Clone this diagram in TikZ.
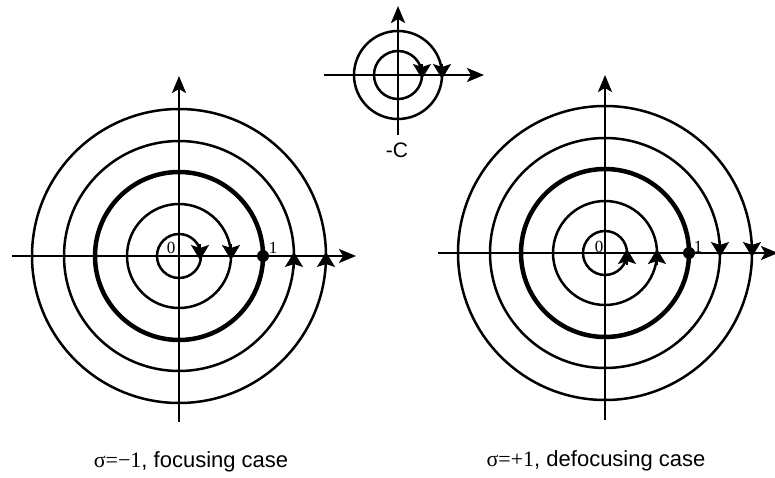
\documentclass[tikz,border=0pt]{standalone}
\usepackage{fontspec}
\setmainfont{Liberation Sans}
\newfontfamily\timesfont{Liberation Serif}
\usetikzlibrary{arrows.meta}
\begin{document}
\begin{tikzpicture}[x=1pt,y=-1pt,line width=2pt,
  axis/.style={line width=2.6pt,-{Stealth[length=17pt,width=14pt,inset=4pt]}},
  orbit/.style={line width=2.5pt},
  limit/.style={line width=4.5pt},
  flow/.style={line width=2pt,-{Stealth[length=15pt,width=18pt,inset=3pt]}},
  every node/.style={inner sep=0pt,anchor=base}]
\useasboundingbox (0,0) rectangle (775,478);
\coordinate (T) at (398,75);
\coordinate (L) at (179,256);
\coordinate (R) at (605,253);
% small contour on top
\draw[axis] (324,75) -- (484,75);
\draw[axis] (398,135) -- (398,6);
\draw[orbit] (T) circle[radius=24];
\draw[orbit] (T) circle[radius=44];
\draw[flow] (422,64) -- (422,79);
\draw[flow] (442,64) -- (442,79);
\node (minusC) at (397,158) {\fontsize{21}{25}\selectfont -C};
% focusing case
\draw[axis] (12,256) -- (356,256);
\draw[axis] (179,422) -- (179,76);
\draw[orbit] (L) circle[radius=22];
\draw[orbit] (L) circle[radius=52];
\draw[limit] (L) circle[radius=84];
\draw[orbit] (L) circle[radius=115];
\draw[orbit] (L) circle[radius=147];
\draw[flow] (200,244) -- (200,260);
\draw[flow] (231,244) -- (231,260);
\draw[flow] (294,268) -- (294,252);
\draw[flow] (326,268) -- (326,252);
\fill (263,256) circle[radius=6];
\node (zeroL) at (171,253) {\timesfont\fontsize{17}{20}\selectfont 0};
\node (oneL) at (273,253) {\timesfont\fontsize{17}{20}\selectfont 1};
\node (capL) at (191,467) {\fontsize{22}{26}\selectfont{\timesfont σ=−1}, focusing case};
% defocusing case
\draw[axis] (438,253) -- (778,253);
\draw[axis] (605,420) -- (605,75);
\draw[orbit] (R) circle[radius=22];
\draw[orbit] (R) circle[radius=52];
\draw[limit] (R) circle[radius=84];
\draw[orbit] (R) circle[radius=115];
\draw[orbit] (R) circle[radius=147];
\draw[flow] (627,265) -- (627,249);
\draw[flow] (657,265) -- (657,249);
\draw[flow] (720,241) -- (720,257);
\draw[flow] (752,241) -- (752,257);
\fill (689,253) circle[radius=6];
\node (zeroR) at (599,252) {\timesfont\fontsize{17}{20}\selectfont 0};
\node (oneR) at (698,252) {\timesfont\fontsize{17}{20}\selectfont 1};
\node (capR) at (596,466) {\fontsize{22}{26}\selectfont{\timesfont σ=+1}, defocusing case};
\end{tikzpicture}
\end{document}
